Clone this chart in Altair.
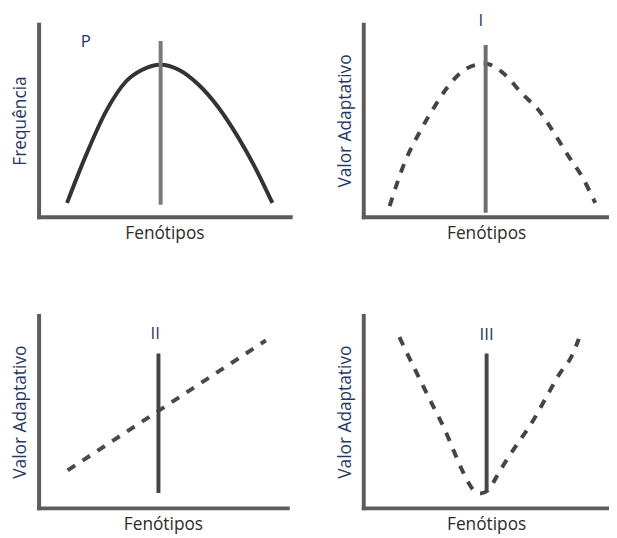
import altair as alt
import pandas as pd

# ---------------- data (abstract units, x and y in 0..10) ----------------
# Panel P: frequency distribution
p_x = [1.13, 1.91, 2.69, 3.48, 4.12, 4.85, 5.57, 6.35, 7.14, 7.92, 8.58, 9.29]
p_y = [0.72, 3.28, 5.50, 7.04, 7.64, 7.90, 7.64, 6.87, 5.69, 4.15, 2.62, 0.72]
p_rule_x, p_rule_y0, p_rule_y1 = 4.85, 0.62, 9.13
p_label, p_label_x, p_label_y = "P", 1.88, 9.08

# Panel I: stabilizing fitness
i_x = [1.07, 1.67, 2.33, 2.88, 3.41, 3.95, 4.62, 4.98, 5.69, 6.49, 7.16, 7.70, 8.37, 8.90, 9.44]
i_y = [0.55, 2.77, 4.48, 5.68, 6.70, 7.47, 7.90, 7.95, 7.47, 6.36, 5.50, 4.48, 3.11, 2.09, 0.72]
i_rule_x, i_rule_y0, i_rule_y1 = 4.98, 0.21, 8.92
i_label, i_label_x, i_label_y = "I", 4.78, 9.9

# Panel II: directional fitness
ii_x = [1.17, 9.14]
ii_y = [1.95, 8.70]
ii_rule_x, ii_rule_y0, ii_rule_y1 = 4.82, 0.77, 8.02
ii_label, ii_label_x, ii_label_y = "II", 4.69, 9.04

# Panel III: disruptive fitness
iii_x = [1.47, 2.08, 2.48, 2.88, 3.28, 3.68, 4.09, 4.49, 4.75, 5.09, 5.42, 5.82, 6.36, 6.90, 7.43, 7.96, 8.50, 8.77]
iii_y = [8.87, 7.25, 6.22, 5.19, 4.17, 2.97, 1.78, 0.92, 0.75, 0.92, 1.61, 2.46, 3.49, 4.51, 5.71, 6.91, 7.93, 8.78]
iii_rule_x, iii_rule_y0, iii_rule_y1 = 5.02, 0.92, 8.02
iii_label, iii_label_x, iii_label_y = "III", 5.02, 8.97

x_title = "Fenótipos"
y_title_p = "Frequência"
y_title_fit = "Valor Adaptativo"

FONT = "Open Sans"
NAVY = "#1f3864"


def panel(xs, ys, rx, ry0, ry1, label, lx, ly, ytitle, width, height,
          dashed, curve_color, rule_color, interp, label_baseline="middle"):
    curve_df = pd.DataFrame({"x": xs, "y": ys})
    rule_df = pd.DataFrame({"x": [rx], "y": [ry0], "y2": [ry1]})
    lab_df = pd.DataFrame({"x": [lx], "y": [ly], "t": [label]})
    xs_ = alt.Scale(domain=[0, 10], nice=False, zero=False)
    ys_ = alt.Scale(domain=[0, 10], nice=False, zero=False)
    line_kw = dict(color=curve_color, strokeWidth=4, interpolate=interp,
                   strokeCap="butt", clip=False)
    if dashed:
        line_kw["strokeDash"] = [9, 9]
    curve = alt.Chart(curve_df).mark_line(**line_kw).encode(
        x=alt.X("x:Q", scale=xs_, title=x_title),
        y=alt.Y("y:Q", scale=ys_, title=ytitle),
    )
    rule = alt.Chart(rule_df).mark_rule(color=rule_color, strokeWidth=4).encode(
        x="x:Q", y="y:Q", y2="y2:Q"
    )
    text = alt.Chart(lab_df).mark_text(
        font=FONT, fontSize=17, color=NAVY, clip=False, baseline=label_baseline
    ).encode(x="x:Q", y="y:Q", text="t:N")
    return alt.layer(curve, rule, text).properties(width=width, height=height)


pP = panel(p_x, p_y, p_rule_x, p_rule_y0, p_rule_y1, p_label, p_label_x, p_label_y,
           y_title_p, 255, 195, False, "#333333", "#7a7a7a", "monotone")
pI = panel(i_x, i_y, i_rule_x, i_rule_y0, i_rule_y1, i_label, i_label_x, i_label_y,
           y_title_fit, 249, 195, True, "#444444", "#6e6e6e", "monotone",
           label_baseline="alphabetic")
pII = panel(ii_x, ii_y, ii_rule_x, ii_rule_y0, ii_rule_y1, ii_label, ii_label_x, ii_label_y,
            y_title_fit, 252, 195, True, "#4a4a4a", "#444444", "linear")
pIII = panel(iii_x, iii_y, iii_rule_x, iii_rule_y0, iii_rule_y1, iii_label, iii_label_x, iii_label_y,
             y_title_fit, 249, 195, True, "#444444", "#474747", "monotone")

chart = alt.vconcat(
    alt.hconcat(pP, pI, spacing=74, bounds="flush"),
    alt.hconcat(pII, pIII, spacing=77, bounds="flush"),
    spacing=74,
).properties(
    padding={"left": 4, "top": 0, "right": 0, "bottom": 0}
).configure_view(
    stroke=None
).configure_axis(
    domain=True, domainColor="#5c5c5c", domainWidth=4, domainCap="square",
    ticks=False, labels=False, grid=False,
    titleFont=FONT, titleFontSize=17.5, titleFontWeight="normal",
).configure_axisX(
    titleColor="#2b2b2b", titlePadding=8,
).configure_axisY(
    titleColor=NAVY, titlePadding=9,
)

chart.save("out.html", embed_options={"renderer": "svg", "actions": False})
